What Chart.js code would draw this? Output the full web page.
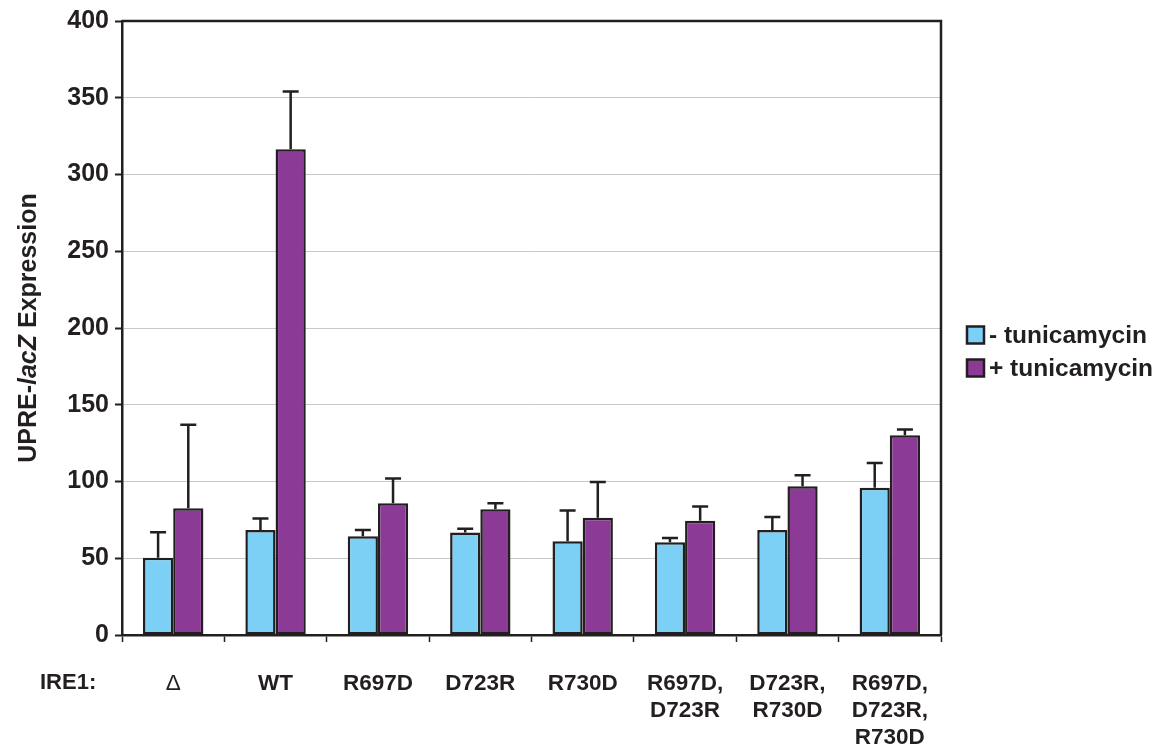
<!DOCTYPE html>
<html lang="en">

<head>
    <meta charset="UTF-8">
    <title>UPRE-lacZ expression</title>
    <script src="https://cdn.jsdelivr.net/npm/chart.js@4.4.1/dist/chart.umd.min.js"></script>
    <style>
        body { margin: 0; background: #fff; }
        #wrap { width: 1160px; height: 750px; }
    </style>
</head>

<body>
    <div id="wrap"><canvas id="myChart"></canvas></div>

    <script>
        // Categories (IRE1 alleles), multi-line labels
        var categories = [
            ["\u0394"], ["WT"], ["R697D"], ["D723R"], ["R730D"],
            ["R697D,", "D723R"], ["D723R,", "R730D"], ["R697D,", "D723R,", "R730D"]
        ];

        // Means
        var minusTm = [50.3, 68.4, 64.3, 66.7, 61.0, 60.4, 68.4, 96.0];
        var plusTm = [82.6, 316.5, 85.9, 82.0, 76.4, 74.4, 96.9, 130.1];

        // Upward error bars (SD)
        var minusTmErr = [16.6, 7.5, 4.1, 2.5, 20.1, 2.8, 8.4, 16.0];
        var plusTmErr = [54.4, 37.5, 16.1, 3.9, 23.3, 9.3, 7.1, 3.7];

        var ink = "#231f20";
        var font = "'Liberation Sans', Arial, sans-serif";

        // Draw error bars, frame, legend and the extra labels
        var extras = {
            id: "extras",
            afterDatasetsDraw: function (chart) {
                var ctx = chart.ctx;
                var y = chart.scales.y;
                var errs = [minusTmErr, plusTmErr];
                ctx.save();
                ctx.strokeStyle = ink;
                ctx.lineWidth = 2.5;
                chart.data.datasets.forEach(function (ds, i) {
                    var meta = chart.getDatasetMeta(i);
                    meta.data.forEach(function (bar, j) {
                        var top = y.getPixelForValue(ds.data[j] + errs[i][j]);
                        ctx.beginPath();
                        ctx.moveTo(bar.x, bar.y);
                        ctx.lineTo(bar.x, top);
                        ctx.moveTo(bar.x - 8, top);
                        ctx.lineTo(bar.x + 8, top);
                        ctx.stroke();
                    });
                });

                // top and right frame
                var a = chart.chartArea;
                ctx.beginPath();
                ctx.moveTo(a.left, a.top);
                ctx.lineTo(a.right, a.top);
                ctx.lineTo(a.right, a.bottom);
                ctx.stroke();
                ctx.restore();
            },
            afterDraw: function (chart) {
                var ctx = chart.ctx;
                var a = chart.chartArea;
                ctx.save();
                ctx.fillStyle = ink;

                // legend
                ctx.textBaseline = "middle";
                ctx.textAlign = "left";
                ctx.font = "bold 24.5px " + font;
                chart.data.datasets.forEach(function (ds, i) {
                    var cy = 335 + i * 33;
                    ctx.fillStyle = ds.backgroundColor;
                    ctx.fillRect(967, cy - 8.5, 17, 17);
                    ctx.strokeStyle = ink;
                    ctx.lineWidth = 2.5;
                    ctx.strokeRect(967, cy - 8.5, 17, 17);
                    ctx.fillStyle = ink;
                    ctx.fillText(ds.label, 989, cy + 1);
                });

                // IRE1: row label
                ctx.font = "bold 22px " + font;
                ctx.fillText("IRE1:", 40, a.bottom + 48);

                // y axis title with italic lacZ
                var parts = [["bold 25px ", "UPRE-"], ["italic bold 25px ", "lacZ"], ["bold 25px ", " Expression"]];
                var total = 0;
                parts.forEach(function (p) {
                    ctx.font = p[0] + font;
                    total += ctx.measureText(p[1]).width;
                });
                ctx.translate(29, (a.top + a.bottom) / 2);
                ctx.rotate(-Math.PI / 2);
                var x = -total / 2;
                parts.forEach(function (p) {
                    ctx.font = p[0] + font;
                    ctx.fillText(p[1], x, 0);
                    x += ctx.measureText(p[1]).width;
                });
                ctx.restore();
            }
        };

        var chart = new Chart(document.getElementById("myChart"), {
            type: "bar",
            data: {
                labels: categories,
                datasets: [{
                    label: "- tunicamycin",
                    data: minusTm,
                    backgroundColor: "#7dd0f5",
                    borderColor: ink,
                    borderWidth: 2.5,
                    borderSkipped: false
                }, {
                    label: "+ tunicamycin",
                    data: plusTm,
                    backgroundColor: "#8b3a96",
                    borderColor: ink,
                    borderWidth: 2.5,
                    borderSkipped: false
                }]
            },
            options: {
                responsive: true,
                maintainAspectRatio: false,
                animation: false,
                datasets: {
                    bar: { categoryPercentage: 0.59, barPercentage: 1.0 }
                },
                layout: { padding: { top: 17, right: 219, left: 0, bottom: 0 } },
                plugins: {
                    legend: { display: false },
                    tooltip: { enabled: false }
                },
                scales: {
                    x: {
                        grid: { drawOnChartArea: false, tickLength: 7, tickColor: ink, tickWidth: 1.5 },
                        border: { color: ink, width: 2.5 },
                        ticks: {
                            color: ink,
                            padding: 28,
                            maxRotation: 0,
                            font: function (c) {
                                return {
                                    family: font, size: 22.5, lineHeight: 1.2,
                                    weight: c.index === 0 ? "normal" : "bold"
                                };
                            }
                        },
                        afterFit: function (scale) { scale.height = 115; }
                    },
                    y: {
                        min: 0,
                        max: 400,
                        ticks: {
                            stepSize: 50,
                            color: ink,
                            padding: 6,
                            font: { family: font, size: 25, weight: "bold" }
                        },
                        grid: {
                            color: "#c8c8c8",
                            lineWidth: 1,
                            tickLength: 7,
                            tickColor: ink,
                            tickWidth: 2
                        },
                        border: { color: ink, width: 2.5 },
                        afterFit: function (scale) { scale.width = 122; }
                    }
                }
            },
            plugins: [extras]
        });
    </script>
</body>

</html>
